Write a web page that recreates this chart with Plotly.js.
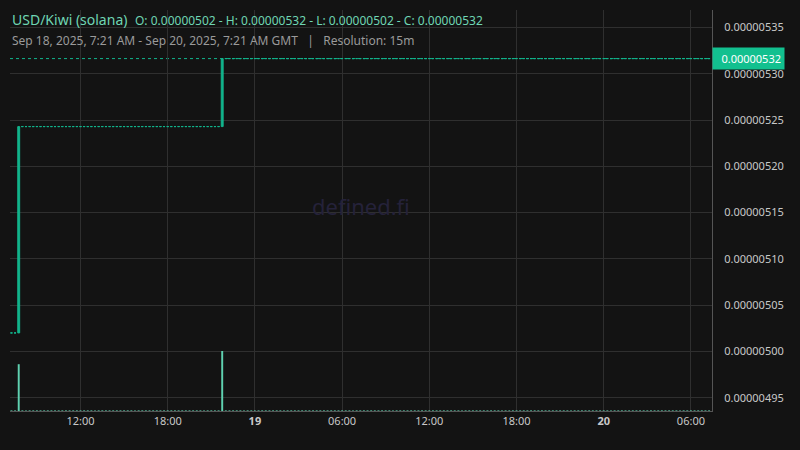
<!DOCTYPE html>
<html>
<head>
<meta charset="utf-8">
<script src="https://cdn.plot.ly/plotly-3.0.1.min.js"></script>
<style>
html,body{margin:0;padding:0;background:#131313;}
#chart{width:800px;height:450px;}
</style>
</head>
<body>
<div id="chart"></div>
<script>
// ---- data (15m candles) ----
const pairName = "USD/Kiwi (solana)";
const rangeText = "Sep 18, 2025, 7:21 AM - Sep 20, 2025, 7:21 AM GMT";
const resolutionText = "Resolution: 15m";
const firstCandle = "2025-09-18T07:15:00Z";
const candleMinutes = 15;
const firstOpen = 5.02e-6;
const closes = [
5.02e-6,5.02e-6,5.243e-6,5.243e-6,5.243e-6,5.243e-6,5.243e-6,5.243e-6,5.243e-6,5.243e-6,
5.243e-6,5.243e-6,5.243e-6,5.243e-6,5.243e-6,5.243e-6,5.243e-6,5.243e-6,5.243e-6,5.243e-6,
5.243e-6,5.243e-6,5.243e-6,5.243e-6,5.243e-6,5.243e-6,5.243e-6,5.243e-6,5.243e-6,5.243e-6,
5.243e-6,5.243e-6,5.243e-6,5.243e-6,5.243e-6,5.243e-6,5.243e-6,5.243e-6,5.243e-6,5.243e-6,
5.243e-6,5.243e-6,5.243e-6,5.243e-6,5.243e-6,5.243e-6,5.243e-6,5.243e-6,5.243e-6,5.243e-6,
5.243e-6,5.243e-6,5.243e-6,5.243e-6,5.243e-6,5.243e-6,5.243e-6,5.243e-6,5.3165e-6,5.3165e-6,
5.3165e-6,5.3165e-6,5.3165e-6,5.3165e-6,5.3165e-6,5.3165e-6,5.3165e-6,5.3165e-6,5.3165e-6,5.3165e-6,
5.3165e-6,5.3165e-6,5.3165e-6,5.3165e-6,5.3165e-6,5.3165e-6,5.3165e-6,5.3165e-6,5.3165e-6,5.3165e-6,
5.3165e-6,5.3165e-6,5.3165e-6,5.3165e-6,5.3165e-6,5.3165e-6,5.3165e-6,5.3165e-6,5.3165e-6,5.3165e-6,
5.3165e-6,5.3165e-6,5.3165e-6,5.3165e-6,5.3165e-6,5.3165e-6,5.3165e-6,5.3165e-6,5.3165e-6,5.3165e-6,
5.3165e-6,5.3165e-6,5.3165e-6,5.3165e-6,5.3165e-6,5.3165e-6,5.3165e-6,5.3165e-6,5.3165e-6,5.3165e-6,
5.3165e-6,5.3165e-6,5.3165e-6,5.3165e-6,5.3165e-6,5.3165e-6,5.3165e-6,5.3165e-6,5.3165e-6,5.3165e-6,
5.3165e-6,5.3165e-6,5.3165e-6,5.3165e-6,5.3165e-6,5.3165e-6,5.3165e-6,5.3165e-6,5.3165e-6,5.3165e-6,
5.3165e-6,5.3165e-6,5.3165e-6,5.3165e-6,5.3165e-6,5.3165e-6,5.3165e-6,5.3165e-6,5.3165e-6,5.3165e-6,
5.3165e-6,5.3165e-6,5.3165e-6,5.3165e-6,5.3165e-6,5.3165e-6,5.3165e-6,5.3165e-6,5.3165e-6,5.3165e-6,
5.3165e-6,5.3165e-6,5.3165e-6,5.3165e-6,5.3165e-6,5.3165e-6,5.3165e-6,5.3165e-6,5.3165e-6,5.3165e-6,
5.3165e-6,5.3165e-6,5.3165e-6,5.3165e-6,5.3165e-6,5.3165e-6,5.3165e-6,5.3165e-6,5.3165e-6,5.3165e-6,
5.3165e-6,5.3165e-6,5.3165e-6,5.3165e-6,5.3165e-6,5.3165e-6,5.3165e-6,5.3165e-6,5.3165e-6,5.3165e-6,
5.3165e-6,5.3165e-6,5.3165e-6,5.3165e-6,5.3165e-6,5.3165e-6,5.3165e-6,5.3165e-6,5.3165e-6,5.3165e-6,
5.3165e-6,5.3165e-6,5.3165e-6
];
const volumes = [
1,1,78,1,1,1,1,1,1,1,
1,1,1,1,1,1,1,1,1,1,
1,1,1,1,1,1,1,1,1,1,
1,1,1,1,1,1,1,1,1,1,
1,1,1,1,1,1,1,1,1,1,
1,1,1,1,1,1,1,1,100,1,
1,1,1,1,1,1,1,1,1,1,
1,1,1,1,1,1,1,1,1,1,
1,1,1,1,1,1,1,1,1,1,
1,1,1,1,1,1,1,1,1,1,
1,1,1,1,1,1,1,1,1,1,
1,1,1,1,1,1,1,1,1,1,
1,1,1,1,1,1,1,1,1,1,
1,1,1,1,1,1,1,1,1,1,
1,1,1,1,1,1,1,1,1,1,
1,1,1,1,1,1,1,1,1,1,
1,1,1,1,1,1,1,1,1,1,
1,1,1,1,1,1,1,1,1,1,
1,1,1,1,1,1,1,1,1,1,
1,1,1
];
const xTickVals = ["2025-09-18 12:00","2025-09-18 18:00","2025-09-19 00:00","2025-09-19 06:00","2025-09-19 12:00","2025-09-19 18:00","2025-09-20 00:00","2025-09-20 06:00"];
const xTickText = ["12:00","18:00","<b>19</b>","06:00","12:00","18:00","<b>20</b>","06:00"];
const xRange = ["2025-09-18 07:09","2025-09-20 07:27"];
const yRange = [4.9356e-6, 5.369e-6];
const watermark = "defined.fi";

// ---- derived ----
function fmtTime(ms){
  const d = new Date(ms);
  const p = n => String(n).padStart(2,"0");
  return d.getUTCFullYear()+"-"+p(d.getUTCMonth()+1)+"-"+p(d.getUTCDate())+" "+p(d.getUTCHours())+":"+p(d.getUTCMinutes());
}
const t0 = Date.parse(firstCandle);
const times = closes.map((_, i) => fmtTime(t0 + i*candleMinutes*60000));
const opens = closes.map((c, i) => i === 0 ? firstOpen : closes[i-1]);
const highs = closes.map((c, i) => Math.max(c, opens[i]));
const lows = closes.map((c, i) => Math.min(c, opens[i]));
const lastClose = closes[closes.length-1];
const maxVol = Math.max(...volumes);

const green = "#12b48c";
const font = "Noto Sans, Open Sans, sans-serif";

const traces = [
  {
    type: "bar", x: times, y: volumes, yaxis: "y2",
    marker: {color: "#5fd1b0", line: {width: 0}},
    width: 480000, hoverinfo: "skip"
  },
  {
    type: "candlestick", x: times, open: opens, high: highs, low: lows, close: closes,
    increasing: {line: {color: green, width: 1}, fillcolor: green},
    decreasing: {line: {color: green, width: 1}, fillcolor: green},
    whiskerwidth: 0
  }
];

const layout = {
  width: 800, height: 450,
  paper_bgcolor: "#131313", plot_bgcolor: "#131313",
  margin: {l: 10, r: 88, t: 10, b: 39},
  showlegend: false,
  font: {family: font, color: "#c8c8c8", size: 11},
  boxgap: 0.25,
  xaxis: {
    type: "date", range: xRange,
    rangeslider: {visible: false},
    tickvals: xTickVals, ticktext: xTickText,
    showgrid: true, gridcolor: "#2f2f2f", gridwidth: 1,
    showline: true, linecolor: "#555", linewidth: 1,
    ticks: "", tickfont: {size: 11, color: "#c8c8c8"},
    zeroline: false, fixedrange: true
  },
  yaxis: {
    side: "right", range: yRange,
    tick0: 0, dtick: 5e-8, tickformat: ".8f",
    showgrid: true, gridcolor: "#2f2f2f", gridwidth: 1,
    showline: true, linecolor: "#555", linewidth: 1,
    ticks: "", ticklabelstandoff: 9,
    tickfont: {size: 11, color: "#c8c8c8"},
    zeroline: false
  },
  yaxis2: {
    overlaying: "y", range: [0, maxVol * 401 / 60],
    visible: false, showgrid: false, zeroline: false
  },
  shapes: [
    {type: "line", xref: "paper", x0: 0, x1: 1, yref: "y", y0: lastClose, y1: lastClose,
     line: {color: green, width: 1, dash: "dot"}, layer: "below"}
  ],
  annotations: [
    {xref: "paper", yref: "paper", x: 0.5, y: 0.51, xanchor: "center", yanchor: "middle",
     text: watermark, showarrow: false, font: {family: font, size: 22, color: "#25223a"}},
    {xref: "paper", yref: "paper", x: 0, y: (411-19)/401, xanchor: "left", yanchor: "middle",
     text: pairName, showarrow: false, font: {family: font, size: 14, color: "#6fd6b4"}},
    {xref: "paper", yref: "paper", x: (133-10)/702, y: (411-20)/401, xanchor: "left", yanchor: "middle",
     text: "O: " + opens[0].toFixed(8) + " - H: " + Math.max(...highs).toFixed(8) + " - L: " + Math.min(...lows).toFixed(8) + " - C: " + lastClose.toFixed(8),
     showarrow: false, font: {family: font, size: 12, color: "#6fd6b4"}},
    {xref: "paper", yref: "paper", x: 0, y: (411-41)/401, xanchor: "left", yanchor: "middle",
     text: rangeText + "   |   " + resolutionText,
     showarrow: false, font: {family: font, size: 12, color: "#9a9a9a"}},
    {xref: "paper", yref: "y", x: 1, y: lastClose, xanchor: "left", yanchor: "middle",
     text: lastClose.toFixed(8), showarrow: false, bgcolor: "#12c08f", borderpad: 3,
     width: 65, align: "right",
     font: {family: font, size: 11, color: "#ffffff"}}
  ]
};

Plotly.newPlot("chart", traces, layout, {displayModeBar: false, staticPlot: true});
</script>
</body>
</html>
